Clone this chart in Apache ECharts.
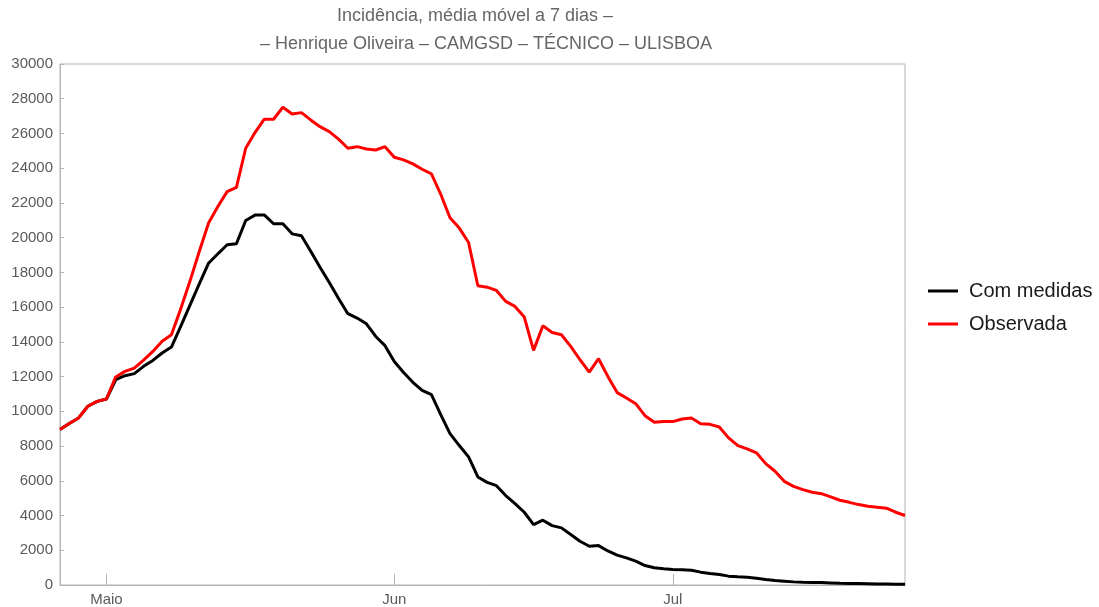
<!DOCTYPE html>
<html>
<head>
<meta charset="utf-8">
<script src="https://cdn.jsdelivr.net/npm/echarts@6/dist/echarts.min.js"></script>
<style>
html,body{margin:0;padding:0;background:#fff;}
#chart{width:1099px;height:607px;}
</style>
</head>
<body>
<div id="chart"></div>
<script>
// Daily dates from 26 April to 26 July (92 points)
const startDate = '2022-04-26';
const numDays = 92;
const monthLabels = { '05': 'Maio', '06': 'Jun', '07': 'Jul' };
const yTicks = { min: 0, max: 30000, step: 2000 };

const titleLines = ['Incidência, média móvel a 7 dias –', '– Henrique Oliveira – CAMGSD – TÉCNICO – ULISBOA'];
const seriesNames = ['Com medidas', 'Observada'];

const comMedidas = [
  8950, 9300, 9620, 10290, 10575, 10710, 11820, 12050, 12170, 12590,
  12930, 13360, 13700, 14890, 16120, 17340, 18530, 19070, 19590, 19650,
  20990, 21300, 21310, 20800, 20800, 20220, 20110, 19220, 18300, 17420,
  16500, 15620, 15370, 15040, 14310, 13780, 12870, 12240, 11670, 11210,
  10960, 9810, 8720, 8030, 7380, 6220, 5910, 5720, 5150, 4690,
  4190, 3480, 3730, 3420, 3290, 2910, 2520, 2230, 2270, 1960,
  1720, 1560, 1370, 1120, 990, 930, 890, 880, 850, 740,
  660, 600, 510, 470, 450, 390, 320, 260, 220, 180,
  160, 150, 140, 120, 100, 90, 80, 70, 60, 55,
  50, 45
];

const observada = [
  8950, 9300, 9620, 10290, 10575, 10710, 11980, 12300, 12490, 12950,
  13450, 14030, 14410, 15900, 17500, 19200, 20840, 21790, 22650, 22900,
  25150, 26050, 26820, 26820, 27510, 27120, 27200, 26780, 26390, 26110,
  25670, 25150, 25240, 25110, 25050, 25240, 24630, 24480, 24250, 23940,
  23670, 22500, 21150, 20550, 19720, 17230, 17150, 16960, 16330, 16040,
  15430, 13510, 14930, 14540, 14410, 13740, 12970, 12260, 13030, 12010,
  11080, 10770, 10440, 9750, 9370, 9410, 9410, 9560, 9620, 9290,
  9250, 9100, 8470, 8030, 7840, 7610, 6990, 6550, 5970, 5680,
  5490, 5340, 5260, 5070, 4880, 4760, 4630, 4530, 4480, 4420,
  4190, 4000
];

const dates = [];
(function () {
  const d0 = new Date(startDate + 'T12:00:00Z');
  for (let i = 0; i < numDays; i++) {
    const d = new Date(d0.getTime() + i * 86400000);
    dates.push(d.toISOString().slice(0, 10));
  }
})();

const isMonthStart = (idx, val) => val.slice(8, 10) === '01';
const axisGray = '#b4b4b4';
const labelGray = '#5a5a5a';
const fontFam = '"Liberation Sans", Arial, sans-serif';

const chart = echarts.init(document.getElementById('chart'), null, { renderer: 'canvas' });
chart.setOption({
  animation: false,
  backgroundColor: '#fff',
  graphic: [
    { type: 'text', x: 475, y: 7, style: { text: titleLines[0], textAlign: 'center', fill: '#666', font: '18px ' + fontFam } },
    { type: 'text', x: 486, y: 35, style: { text: titleLines[1], textAlign: 'center', fill: '#666', font: '18px ' + fontFam } }
  ],
  grid: { left: 60, right: 194, top: 64, bottom: 21, show: true, borderColor: axisGray, borderWidth: 1, containLabel: false },
  legend: {
    orient: 'vertical', left: 923, top: 276,
    itemWidth: 30, itemHeight: 3, itemGap: 13,
    icon: 'rect',
    textStyle: { fontSize: 20, color: '#1a1a1a', fontFamily: fontFam, padding: [0, 0, 0, 6] },
    data: seriesNames
  },
  xAxis: {
    type: 'category', data: dates, boundaryGap: false,
    axisLine: { lineStyle: { color: axisGray } },
    axisTick: { inside: true, length: 11, interval: isMonthStart, lineStyle: { color: axisGray } },
    axisLabel: { interval: isMonthStart, margin: 7, color: labelGray, fontSize: 15, fontFamily: fontFam,
      formatter: v => monthLabels[v.slice(5, 7)] || '' },
    splitLine: { show: false }
  },
  yAxis: {
    type: 'value', min: yTicks.min, max: yTicks.max, interval: yTicks.step,
    axisLine: { show: true, lineStyle: { color: axisGray } },
    axisTick: { show: true, inside: true, length: 4, lineStyle: { color: axisGray } },
    axisLabel: { margin: 7, color: labelGray, fontSize: 15, fontFamily: fontFam, formatter: v => String(v) },
    splitLine: { show: false }
  },
  series: [
    { name: seriesNames[0], type: 'line', data: comMedidas, showSymbol: false, symbol: 'none',
      lineStyle: { color: '#000', width: 3 }, itemStyle: { color: '#000' } },
    { name: seriesNames[1], type: 'line', data: observada, showSymbol: false, symbol: 'none',
      lineStyle: { color: '#ff0000', width: 3 }, itemStyle: { color: '#ff0000' } }
  ]
});
</script>
</body>
</html>
